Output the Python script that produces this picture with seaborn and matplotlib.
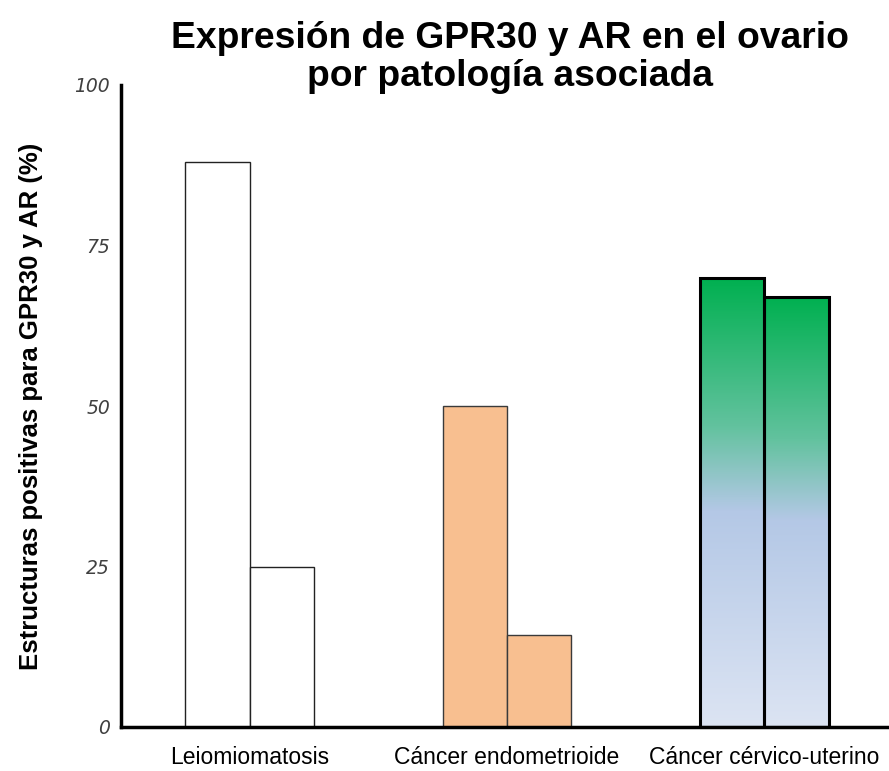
import numpy as np
import pandas as pd
import matplotlib
matplotlib.use("Agg")
import matplotlib.pyplot as plt
from matplotlib.colors import LinearSegmentedColormap
import seaborn as sns

categories = ["Leiomiomatosis", "Cáncer endometrioide", "Cáncer cérvico-uterino"]
series = ["GPR30", "AR"]
gpr30 = [88, 50, 70]
ar = [25, 14.3, 67]
yticks = [0, 25, 50, 75, 100]

df = pd.DataFrame({
    "cat": categories * 2,
    "serie": [series[0]] * 3 + [series[1]] * 3,
    "val": gpr30 + ar,
})

sns.set_theme(style="white")
plt.rcParams["font.family"] = ["Liberation Sans", "DejaVu Sans"]

fig = plt.figure(figsize=(8.89, 7.71), dpi=100)
ax = fig.add_axes([121/889, 44/771, 772/889, 642/771])

sns.barplot(data=df, x="cat", y="val", hue="serie", order=categories,
            hue_order=series, width=0.5, dodge=True, legend=False, ax=ax,
            saturation=1)

face = {0: "white", 1: "#F8BF90", 2: "none"}
grad = LinearSegmentedColormap.from_list(
    "g", [(0.0, "#00B050"), (0.33, "#62C29E"), (0.52, "#B4C8E6"), (1.0, "#DCE4F3")])

for p in ax.patches:
    xc = p.get_x() + p.get_width() / 2
    ci = int(round(xc))
    if ci == 2:
        p.set_facecolor("none")
        p.set_edgecolor("black")
        p.set_linewidth(2.2)
        p.set_zorder(3)
        x0, w, h = p.get_x(), p.get_width(), p.get_height()
        img = np.linspace(0, 1, 256).reshape(-1, 1)
        im = ax.imshow(img, cmap=grad, aspect="auto",
                       extent=[x0, x0 + w, 0, h], origin="upper", zorder=2)
        im.set_clip_path(p)
    else:
        p.set_facecolor(face[ci])
        p.set_edgecolor("#222222" if ci == 0 else "#3a3a3a")
        p.set_linewidth(1.0)

ax.set_xlim(-0.5, 2.5)
ax.set_ylim(0, 100)

for s in ["top", "right"]:
    ax.spines[s].set_visible(False)
for s in ["left", "bottom"]:
    ax.spines[s].set_color("black")
    ax.spines[s].set_linewidth(2.5)
    ax.spines[s].set_zorder(5)

ax.set_yticks(yticks)
ax.set_yticklabels([str(t) for t in yticks], fontstyle="italic",
                   fontfamily="DejaVu Sans", fontsize=13.5, color="#404040")
ax.tick_params(axis="y", length=0, pad=8)
ax.tick_params(axis="x", length=0, pad=14)
ax.set_xticks(range(3))
ax.set_xticklabels(categories, fontsize=16.5, color="black")
ax.set_xlabel("")
ax.set_ylabel("Estructuras positivas para GPR30 y AR (%)", fontsize=18.5,
              fontweight="bold", color="black")
ax.yaxis.set_label_coords(-0.101, 0.5)

fig.text(510/889, 1 - 21/771, "Expresión de GPR30 y AR en el ovario\npor patología asociada",
         ha="center", va="top", fontsize=26.8, fontweight="bold",
         linespacing=1.12, color="black")

fig.savefig("out.png", dpi=100, facecolor="white")
